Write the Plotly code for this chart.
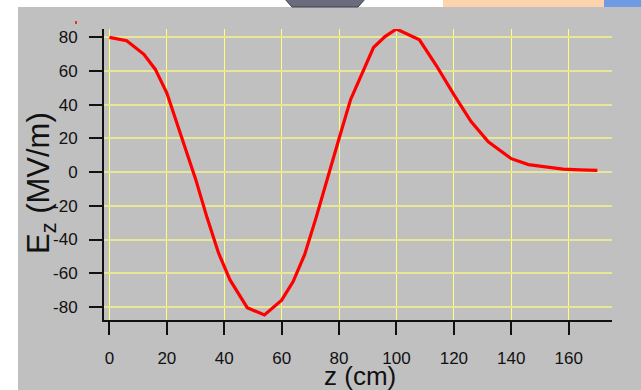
import plotly.graph_objects as go

# Data
z_cm = [0, 6, 12, 16, 20, 25, 30, 34, 38, 42, 48, 54, 60, 64, 68, 72, 76, 80, 84, 88,
        92, 96, 100, 108, 114, 120, 126, 132, 140, 146, 152, 158, 164, 170]
ez_mvm = [80, 78, 70, 61, 47, 21, -4, -27, -48, -64, -80.5, -84.8, -76, -65, -49, -27, -3, 20, 43, 58,
          74, 80.5, 85, 78.6, 63, 46, 30, 18, 8, 4.5, 3, 1.8, 1.3, 1]
x_ticks = [0, 20, 40, 60, 80, 100, 120, 140, 160]
y_ticks = [-80, -60, -40, -20, 0, 20, 40, 60, 80]
y_tick_labels = ["-80", "-60", "-40", "-20", "0", "20", "40", "60", "80"]
x_title = "z (cm)"
y_title = "E<sub>z</sub> (MV/m)"

W, H = 641, 390
L, R, T, B = 104, 29, 29, 70
pw, ph = W - L - R, H - T - B


def px(x):
    return (x - L) / pw


def py(y):
    return (H - B - y) / ph


fig = go.Figure()
fig.add_trace(go.Scatter(x=z_cm, y=ez_mvm, mode="lines",
                         line=dict(color="#ff0000", width=3.2),
                         showlegend=False, hoverinfo="skip"))

shapes = [
    # gray panel background
    dict(type="rect", xref="paper", yref="paper", x0=px(18), x1=px(W + 2), y0=py(7), y1=py(H + 2),
         fillcolor="#c0c0c0", line=dict(width=0), layer="below"),
    # decorative bits peeking above the panel
    dict(type="path", xref="paper", yref="paper",
         path=f"M {px(284)} {py(-2)} L {px(366)} {py(-2)} L {px(358)} {py(7)} L {px(292)} {py(7)} Z",
         fillcolor="#6b6b7e", line=dict(color="#3c3c48", width=1), layer="below"),
    dict(type="rect", xref="paper", yref="paper", x0=px(443), x1=px(604), y0=py(-2), y1=py(7),
         fillcolor="#fdd3ad", line=dict(width=0), layer="below"),
    dict(type="rect", xref="paper", yref="paper", x0=px(604), x1=px(W + 2), y0=py(-2), y1=py(7),
         fillcolor="#6f9be3", line=dict(width=0), layer="below"),
    dict(type="line", xref="paper", yref="paper", x0=px(76), x1=px(76), y0=py(21), y1=py(24),
         line=dict(color="#ff0000", width=1.5)),
]

annotations = [
    dict(text=x_title, xref="paper", yref="paper", x=px(360), y=py(376),
         xanchor="center", yanchor="middle", showarrow=False,
         font=dict(size=26, color="#111111")),
    dict(text=y_title, xref="paper", yref="paper", x=px(41), y=py(183),
         xanchor="center", yanchor="middle", showarrow=False, textangle=-90,
         font=dict(size=31, color="#111111")),
]

fig.update_layout(
    width=W, height=H,
    margin=dict(l=L, r=R, t=T, b=B, autoexpand=False),
    paper_bgcolor="#ffffff",
    plot_bgcolor="#c0c0c0",
    font=dict(family="Liberation Sans, Arial, sans-serif", color="#111111", size=17),
    shapes=shapes,
    annotations=annotations,
    xaxis=dict(
        range=[-1.9, 175.1], tickvals=x_ticks, ticks="outside", ticklen=13, tickwidth=2,
        tickcolor="#111111", showline=True, linecolor="#111111", linewidth=2,
        showgrid=True, gridcolor="#ffff78", gridwidth=1, zeroline=False,
        ticklabelstandoff=9, automargin=False,
    ),
    yaxis=dict(
        range=[-87.8, 85.0], tickvals=y_ticks, ticktext=y_tick_labels, ticks="outside",
        ticklen=13, tickwidth=2,
        tickcolor="#111111", showline=True, linecolor="#111111", linewidth=2,
        showgrid=True, gridcolor="#e9e695", gridwidth=2, zeroline=False,
        ticklabelstandoff=8, automargin=False,
    ),
)

fig.write_html("out.html", config={"displayModeBar": False},
               post_script="document.body.style.margin='0px';")
